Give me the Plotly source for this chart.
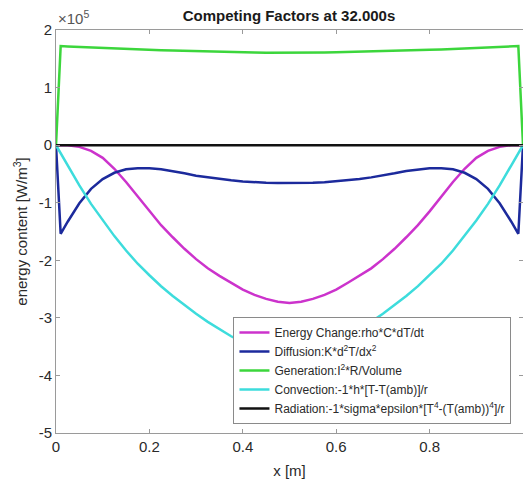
import plotly.graph_objects as go

# x positions [m]
x = [0, 0.01, 0.025, 0.05, 0.075, 0.1, 0.125, 0.15, 0.175, 0.2, 0.225, 0.25, 0.275,
     0.3, 0.325, 0.35, 0.375, 0.4, 0.425, 0.45, 0.475, 0.5, 0.525, 0.55, 0.575, 0.6,
     0.625, 0.65, 0.675, 0.7, 0.725, 0.75, 0.775, 0.8, 0.825, 0.85, 0.875, 0.9, 0.925,
     0.95, 0.975, 0.99, 1.0]

# values in units of 1e5 W/m^3
energy_change = [0, 0, 0, -0.03, -0.1, -0.22, -0.41, -0.64, -0.89, -1.15, -1.39, -1.6, -1.8,
                 -1.98, -2.14, -2.27, -2.39, -2.51, -2.6, -2.67, -2.72, -2.74, -2.72, -2.67, -2.6,
                 -2.51, -2.39, -2.27, -2.14, -1.98, -1.8, -1.6, -1.39, -1.15, -0.89, -0.64, -0.41,
                 -0.22, -0.1, -0.03, 0, 0, 0]
diffusion = [0, -1.54, -1.33, -1.01, -0.76, -0.59, -0.48, -0.42, -0.4, -0.4, -0.42, -0.45, -0.49,
             -0.53, -0.56, -0.59, -0.61, -0.63, -0.645, -0.652, -0.656, -0.657, -0.656, -0.652,
             -0.645, -0.63, -0.61, -0.59, -0.56, -0.53, -0.49, -0.45, -0.42, -0.4, -0.4, -0.42,
             -0.48, -0.59, -0.76, -1.01, -1.33, -1.54, 0]
generation = [0, 1.72, 1.715, 1.705, 1.695, 1.685, 1.677, 1.67, 1.662, 1.655, 1.648, 1.642, 1.636,
              1.63, 1.625, 1.62, 1.616, 1.612, 1.609, 1.607, 1.605, 1.605, 1.605, 1.607, 1.609,
              1.612, 1.616, 1.62, 1.625, 1.63, 1.636, 1.642, 1.648, 1.655, 1.662, 1.67, 1.677,
              1.685, 1.695, 1.705, 1.715, 1.72, 0]
convection = [0, -0.14, -0.35, -0.7, -1.02, -1.31, -1.58, -1.83, -2.06, -2.26, -2.45, -2.62, -2.78,
              -2.93, -3.07, -3.2, -3.32, -3.42, -3.5, -3.57, -3.62, -3.64, -3.62, -3.57, -3.5,
              -3.42, -3.32, -3.2, -3.07, -2.93, -2.78, -2.62, -2.45, -2.26, -2.06, -1.83, -1.58,
              -1.31, -1.02, -0.7, -0.35, -0.14, 0]
radiation = [0, -0.003, -0.004, -0.004, -0.004, -0.004, -0.004, -0.004, -0.004, -0.004, -0.004,
             -0.004, -0.004, -0.004, -0.004, -0.004, -0.004, -0.004, -0.004, -0.004, -0.004,
             -0.004, -0.004, -0.004, -0.004, -0.004, -0.004, -0.004, -0.004, -0.004, -0.004,
             -0.004, -0.004, -0.004, -0.004, -0.004, -0.004, -0.004, -0.004, -0.004, -0.004,
             -0.003, 0]

names = [
    "Energy Change:rho*C*dT/dt",
    "Diffusion:K*d<sup>2</sup>T/dx<sup>2</sup>",
    "Generation:I<sup>2</sup>*R/Volume",
    "Convection:-1*h*[T-T(amb)]/r",
    "Radiation:-1*sigma*epsilon*[T<sup>4</sup>-(T(amb))<sup>4</sup>]/r",
]
series = [energy_change, diffusion, generation, convection, radiation]
colors = ["#cc33cc", "#1c2a9c", "#3cd63c", "#3ddcdc", "#111111"]

x_ticks = [0, 0.2, 0.4, 0.6, 0.8, 1]
x_tick_labels = ["0", "0.2", "0.4", "0.6", "0.8", "1"]
y_ticks = [-5, -4, -3, -2, -1, 0, 1, 2]
y_tick_labels = ["-5", "-4", "-3", "-2", "-1", "0", "1", "2"]

fig = go.Figure()
for name, ys, c in zip(names, series, colors):
    fig.add_trace(go.Scatter(x=x, y=ys, mode="lines", name=name,
                             line=dict(color=c, width=2.5)))

font_family = "Liberation Sans, Arial, sans-serif"
axis_common = dict(showline=True, linecolor="#9a9a9a", linewidth=1, mirror="ticks",
                   ticks="inside", ticklen=4, tickcolor="#9a9a9a", showgrid=False,
                   zeroline=False, tickfont=dict(size=15, color="#2a2a2a", family=font_family))

fig.update_layout(
    width=523, height=485,
    margin=dict(l=56, r=0, t=30, b=52),
    paper_bgcolor="white", plot_bgcolor="white",
    font=dict(family=font_family, color="#2a2a2a"),
    title=dict(text="<b>Competing Factors at 32.000s</b>", x=0.5526, xanchor="center",
               y=0.967, yanchor="middle", font=dict(size=15, color="#1a1a1a")),
    xaxis=dict(range=[0, 1], tickvals=x_ticks, ticktext=x_tick_labels,
               title=dict(text="x [m]", font=dict(size=15), standoff=11), **axis_common),
    yaxis=dict(range=[-5, 2], tickvals=y_ticks, ticktext=y_tick_labels,
               title=dict(text="energy content [W/m<sup>3</sup>]", font=dict(size=15), standoff=7),
               **axis_common),
    legend=dict(x=0.38, y=0.288, xanchor="left", yanchor="top", bgcolor="white",
                bordercolor="#8a8a8a", borderwidth=1, font=dict(size=12, color="#2a2a2a"),
                tracegroupgap=0, itemwidth=30),
    showlegend=True,
)
fig.add_annotation(text="\u00d710<sup>5</sup>", xref="paper", yref="paper", x=0.0, y=1.0,
                   xanchor="left", yanchor="bottom", showarrow=False, yshift=1,
                   font=dict(size=15, color="#555555"))

fig.write_html("out.html")
